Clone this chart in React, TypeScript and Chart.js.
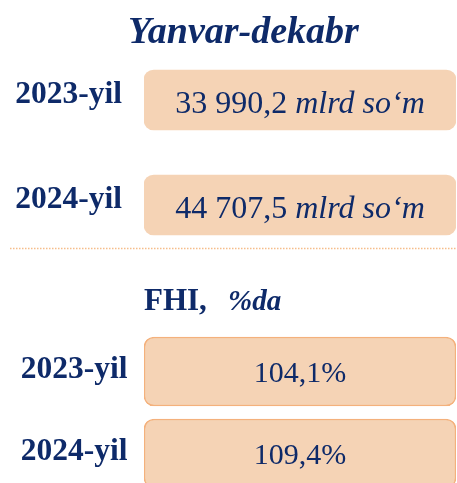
import React, { useEffect, useRef } from 'react';
import { Chart, registerables } from 'chart.js';

Chart.register(...registerables);

// ---- data ----
const titleText = 'Yanvar-dekabr';
const years = ['2023-yil', '2024-yil'];
const volumeValues = [33990.2, 44707.5];
const volumeUnit = 'mlrd so‘m';
const fhiHeader = 'FHI,';
const fhiUnit = '%da';
const fhiValues = [104.1, 109.4];

// ---- style ----
const NAVY = '#0e2a69';
const FILL = '#f5d3b5';
const BORDER = '#f4b17c';
const DOTS = '#f6bd8a';
const SERIF = '"Liberation Serif", "Times New Roman", serif';

const fmtNum = (n: number) => {
  const [i, d] = n.toFixed(1).split('.');
  return i.replace(/\B(?=(\d{3})+(?!\d))/g, ' ') + ',' + d;
};

function drawParts(ctx: CanvasRenderingContext2D, parts: { text: string; font: string }[], cx: number, y: number) {
  let total = 0;
  const widths = parts.map((p) => {
    ctx.font = p.font;
    const w = ctx.measureText(p.text).width;
    total += w;
    return w;
  });
  let x = cx - total / 2;
  parts.forEach((p, i) => {
    ctx.font = p.font;
    ctx.fillText(p.text, x, y);
    x += widths[i];
  });
}

export default function App() {
  const topRef = useRef<HTMLCanvasElement>(null);
  const botRef = useRef<HTMLCanvasElement>(null);

  useEffect(() => {
    const topPlugin = {
      id: 'topDecor',
      afterDatasetsDraw(chart: any) {
        const ctx = chart.ctx as CanvasRenderingContext2D;
        ctx.save();
        ctx.fillStyle = NAVY;
        ctx.textBaseline = 'alphabetic';
        ctx.textAlign = 'center';
        ctx.font = `italic bold 38px ${SERIF}`;
        ctx.fillText(titleText, 243.5, 43);
        ctx.textAlign = 'left';
        const meta = chart.getDatasetMeta(0);
        meta.data.forEach((bar: any, i: number) => {
          const cx = (bar.x + bar.base) / 2;
          drawParts(
            ctx,
            [
              { text: fmtNum(volumeValues[i]) + ' ', font: `32px ${SERIF}` },
              { text: volumeUnit, font: `italic 32px ${SERIF}` },
            ],
            cx,
            bar.y + 13
          );
        });
        ctx.strokeStyle = DOTS;
        ctx.lineWidth = 1.5;
        ctx.setLineDash([1.5, 1.5]);
        ctx.beginPath();
        ctx.moveTo(10, 248.5);
        ctx.lineTo(457, 248.5);
        ctx.stroke();
        ctx.restore();
      },
    };

    const botPlugin = {
      id: 'botDecor',
      afterDatasetsDraw(chart: any) {
        const ctx = chart.ctx as CanvasRenderingContext2D;
        ctx.save();
        ctx.fillStyle = NAVY;
        ctx.textBaseline = 'alphabetic';
        ctx.textAlign = 'left';
        ctx.font = `bold 31px ${SERIF}`;
        ctx.fillText(fhiHeader, 144, 49.5);
        ctx.font = `italic bold 29px ${SERIF}`;
        ctx.fillText(fhiUnit, 228, 49.5);
        const meta = chart.getDatasetMeta(0);
        meta.data.forEach((bar: any, i: number) => {
          const cx = (bar.x + bar.base) / 2;
          drawParts(ctx, [{ text: fmtNum(fhiValues[i]) + '%', font: `30px ${SERIF}` }], cx, bar.y + 10.5);
        });
        ctx.restore();
      },
    };

    const makeOptions = (padTop: number, padBottom: number, tickPad: number, labelOffset: number) => ({
      indexAxis: 'y' as const,
      animation: false as const,
      responsive: false,
      maintainAspectRatio: false,
      layout: { padding: { top: padTop, bottom: padBottom, left: 0, right: 1 } },
      plugins: {
        legend: { display: false },
        tooltip: { enabled: false },
        title: { display: false },
      },
      scales: {
        x: { display: false, min: 0, max: 1 },
        y: {
          grid: { display: false, drawTicks: false },
          border: { display: false },
          ticks: {
            color: NAVY,
            font: { family: SERIF, size: 31.5, weight: 'bold' as const },
            padding: tickPad,
            labelOffset,
          },
          afterFit: (s: any) => {
            s.width = 144;
            s.paddingTop = 0;
            s.paddingBottom = 0;
          },
        },
      },
    });

    const top = new Chart(topRef.current!, {
      type: 'bar',
      data: {
        labels: years,
        datasets: [
          {
            data: volumeValues.map(() => [0, 1]) as any,
            backgroundColor: FILL,
            borderWidth: 0,
            borderRadius: 10,
            borderSkipped: false,
            barThickness: 60,
          },
        ],
      },
      options: makeOptions(47.5, 2.5, 22, -5) as any,
      plugins: [topPlugin],
    });

    const bot = new Chart(botRef.current!, {
      type: 'bar',
      data: {
        labels: years,
        datasets: [
          {
            data: fhiValues.map(() => [0, 1]) as any,
            backgroundColor: FILL,
            borderColor: BORDER,
            borderWidth: 1.5,
            borderRadius: 10,
            borderSkipped: false,
            barThickness: 69,
          },
        ],
      },
      options: makeOptions(70.5, 5.5, 16.5, -1.5) as any,
      plugins: [botPlugin],
    });

    return () => {
      top.destroy();
      bot.destroy();
    };
  }, []);

  return (
    <div
      style={{
        position: 'fixed',
        left: 0,
        top: 0,
        width: 457,
        height: 483,
        overflow: 'hidden',
        background: '#ffffff',
      }}
    >
      <canvas ref={topRef} width={457} height={260} style={{ display: 'block', width: 457, height: 260 }} />
      <canvas ref={botRef} width={457} height={240} style={{ display: 'block', width: 457, height: 240 }} />
    </div>
  );
}
